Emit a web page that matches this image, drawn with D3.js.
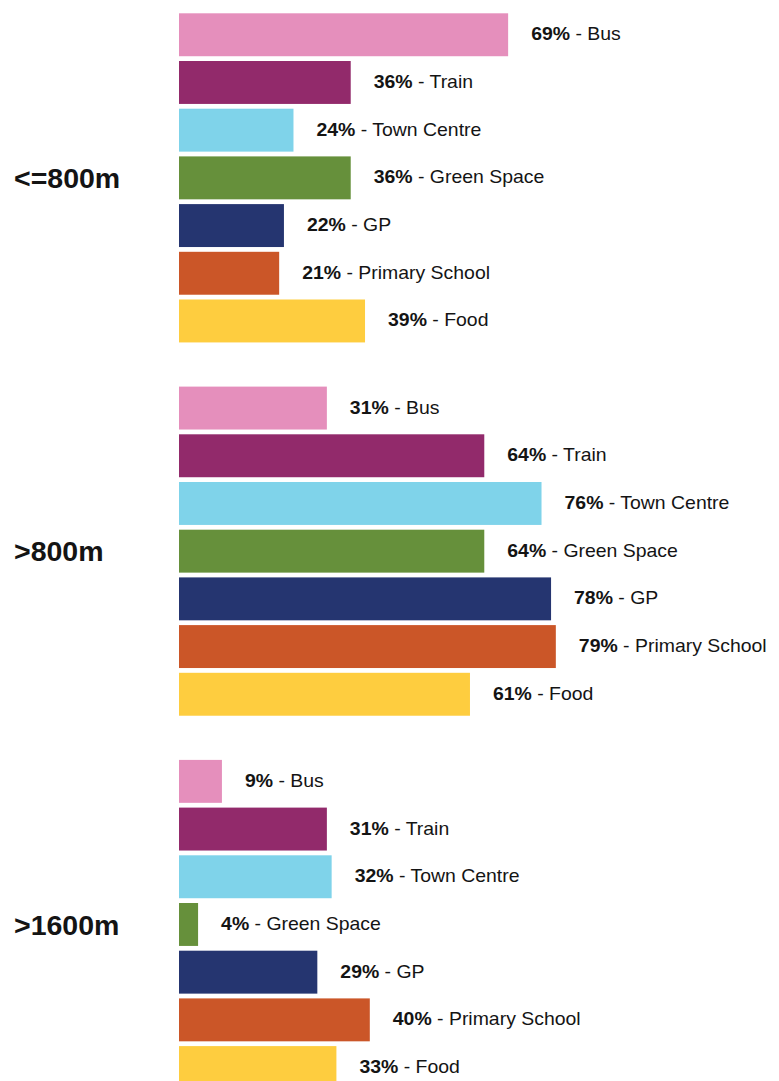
<!DOCTYPE html>
<html>
<head>
<meta charset="utf-8">
<script src="https://cdn.jsdelivr.net/npm/d3@7/dist/d3.min.js"></script>
<style>
  html, body { margin: 0; padding: 0; background: #ffffff; }
  svg { display: block; }
  text { font-family: "Liberation Sans", Arial, Helvetica, sans-serif; fill: #141414; }
</style>
</head>
<body>
<svg id="chart" width="779" height="1081"></svg>
<script>
// Distance bands and destination types
const groups = ["<=800m", ">800m", ">1600m"];
const categories = ["Bus", "Train", "Town Centre", "Green Space", "GP", "Primary School", "Food"];
const colors = ["#e58fbc", "#922a6b", "#7fd3ea", "#66903b", "#253570", "#cb5628", "#fecd3f"];

// Share of homes (%) within each distance band, per destination type
const within800 = [69, 36, 24, 36, 22, 21, 39];
const over800 = [31, 64, 76, 64, 78, 79, 61];
const over1600 = [9, 31, 32, 4, 29, 40, 33];
const seriesValues = [within800, over800, over1600];

const svg = d3.select("#chart");

const x = d3.scaleLinear().domain([0, 100]).range([179, 656]);

const groupStep = 373.3;
const groupScale = d3.scaleBand()
  .domain(groups)
  .range([13.3, 13.3 + groups.length * groupStep]);

// rows are 47.7px apart with a small gap between bars
const rowStep = 47.7;
const rowPad = 0.1;
const groupHeight = categories.length * rowStep - rowPad * rowStep;
const rowScale = d3.scaleBand()
  .domain(categories)
  .range([0, groupHeight])
  .paddingInner(rowPad)
  .paddingOuter(0);

const color = d3.scaleOrdinal().domain(categories).range(colors);

const blocks = svg.selectAll("g.block")
  .data(groups.map((g, i) => ({ name: g, values: seriesValues[i] })))
  .join("g")
  .attr("class", "block")
  .attr("transform", d => `translate(0,${groupScale(d.name)})`);

// Band label on the left
blocks.append("text")
  .attr("x", 14)
  .attr("y", groupHeight / 2)
  .attr("dy", "0.36em")
  .style("font-size", "28.5px")
  .style("font-weight", "bold")
  .text(d => d.name);

const rows = blocks.selectAll("g.row")
  .data(d => d.values.map((v, i) => ({ cat: categories[i], value: v })))
  .join("g")
  .attr("class", "row")
  .attr("transform", d => `translate(0,${rowScale(d.cat)})`);

rows.append("rect")
  .attr("x", x(0))
  .attr("y", 0)
  .attr("width", d => x(d.value) - x(0))
  .attr("height", rowScale.bandwidth())
  .attr("fill", d => color(d.cat));

// Value label: bold percentage followed by the destination name
const labels = rows.append("text")
  .attr("transform", d => `translate(${x(d.value) + 23},${rowScale.bandwidth() / 2 - 1}) scale(1.08,1)`)
  .attr("dy", "0.36em")
  .style("font-size", "18px");

labels.append("tspan")
  .style("font-weight", "bold")
  .text(d => d.value + "%");
labels.append("tspan")
  .text(d => " - " + d.cat);
</script>
</body>
</html>
